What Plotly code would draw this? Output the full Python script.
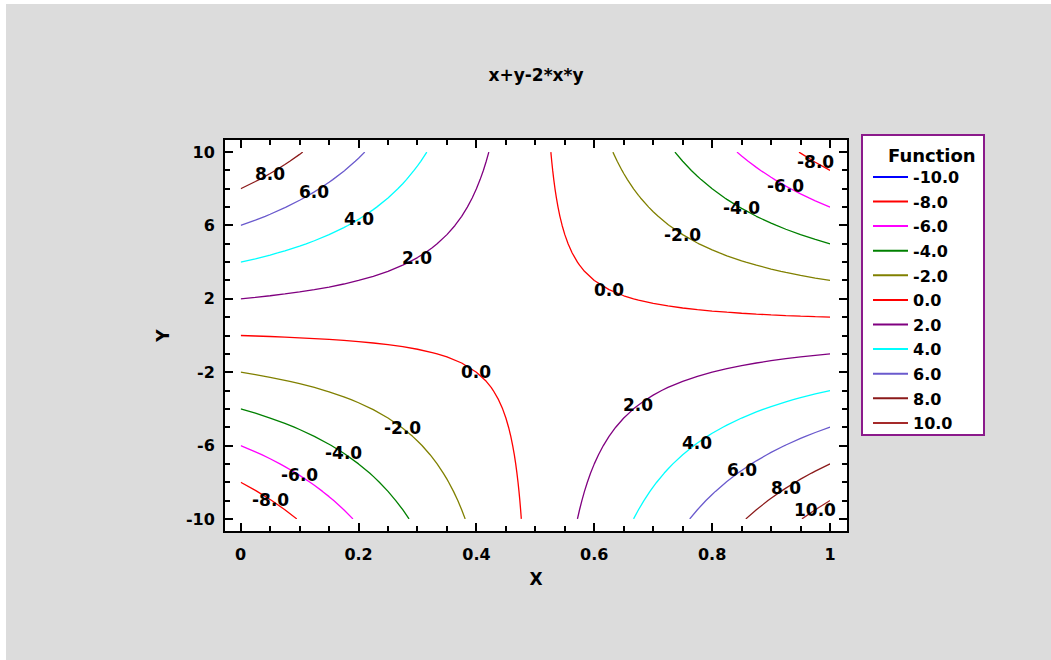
import numpy as np
import plotly.graph_objects as go

# ---- data ----
title_text = "x+y-2*x*y"
legend_title = "Function"
x_vals = np.linspace(0.0, 1.0, 41)
y_vals = np.linspace(-10.0, 10.0, 41)
levels = [-10.0, -8.0, -6.0, -4.0, -2.0, 0.0, 2.0, 4.0, 6.0, 8.0, 10.0]
level_labels = ["-10.0", "-8.0", "-6.0", "-4.0", "-2.0", "0.0", "2.0", "4.0", "6.0", "8.0", "10.0"]
x_ticks = [0, 0.2, 0.4, 0.6, 0.8, 1]
x_ticktext = ["0", "0.2", "0.4", "0.6", "0.8", "1"]
y_ticks = [-10, -6, -2, 2, 6, 10]
y_ticktext = ["-10", "-6", "-2", "2", "6", "10"]

# ---- style ----
level_colors = ["#0000FF", "#FF0000", "#FF00FF", "#008000", "#808000", "#FF0000",
                "#800080", "#00FFFF", "#6A5ACD", "#8B1A1A", "#A52A2A"]
FONT = "DejaVu Sans, Liberation Sans, Arial, sans-serif"
# where along x each contour label sits: (level, x)
label_places = [(8.0, 0.058), (6.0, 0.12), (4.0, 0.196), (2.0, 0.298),
                (0.0, 0.62), (-2.0, 0.757), (-4.0, 0.849), (-6.0, 0.915), (-8.0, 0.97),
                (0.0, 0.389), (-2.0, 0.264), (-4.0, 0.175), (-6.0, 0.106), (-8.0, 0.05),
                (2.0, 0.681), (4.0, 0.786), (6.0, 0.861), (8.0, 0.92), (10.0, 0.974)]

X, Y = np.meshgrid(x_vals, y_vals)
Z = X + Y - 2 * X * Y

fig = go.Figure()
for lv, col in zip(levels, level_colors):
    fig.add_trace(go.Contour(
        x=x_vals, y=y_vals, z=Z,
        autocontour=False,
        contours=dict(start=lv, end=lv, size=1, coloring="none", showlabels=False),
        line=dict(color=col, width=1.3, smoothing=0),
        showscale=False, showlegend=False, hoverinfo="skip",
    ))

for i, (lab, col) in enumerate(zip(level_labels, level_colors)):
    fig.add_trace(go.Scatter(x=[None], y=[None], mode="lines", name=lab, legendgroup=f"g{i}",
                             line=dict(color=col, width=2), showlegend=True))

# contour labels: locate the level crossing in the grid column at the chosen x
annotations = []
for lv, xl in label_places:
    j = int(np.argmin(np.abs(x_vals - xl)))
    col_z = Z[:, j]
    order = np.argsort(col_z)
    yl = float(np.interp(lv, col_z[order], y_vals[order]))
    annotations.append(dict(x=x_vals[j], y=yl, xref="x", yref="y", text=f"{lv:.1f}",
                            showarrow=False, font=dict(size=17, family=FONT, color="black", weight="bold")))

W, H = 1051, 660
ML, MR, MT, MB = 225, 204, 140, 129
pw, ph = W - ML - MR, H - MT - MB

def px_x(p):
    return (p - ML) / pw

def px_y(p):
    return 1 - (p - MT) / ph

annotations.append(dict(x=px_x(932), y=px_y(155), xref="paper", yref="paper", text=legend_title,
                        showarrow=False, xanchor="center", yanchor="middle",
                        font=dict(size=18, family=FONT, color="black", weight="bold")))

axis_common = dict(
    showline=True, linecolor="black", linewidth=2, mirror="allticks",
    ticks="inside", ticklen=8, tickwidth=1.5, tickcolor="black",
    showgrid=False, zeroline=False,
    tickfont=dict(size=16, family=FONT, color="black", weight="bold"),
)

fig.update_layout(
    width=W, height=H,
    margin=dict(l=ML, r=MR, t=MT, b=MB),
    paper_bgcolor="#DCDCDC", plot_bgcolor="white",
    title=dict(text=title_text, x=536 / W, xanchor="center", y=1 - 75 / H, yanchor="middle",
               font=dict(size=17, family=FONT, color="black", weight="bold")),
    xaxis=dict(range=[-0.0266, 1.0288], tickvals=x_ticks, ticktext=x_ticktext,
               ticklabelstandoff=8,
               minor=dict(dtick=0.05, tick0=0, ticks="inside", ticklen=5, tickwidth=1.5, tickcolor="black"),
               title=dict(text="X", font=dict(size=17, family=FONT, color="black", weight="bold"), standoff=10),
               **axis_common),
    yaxis=dict(range=[-10.66, 10.66], tickvals=y_ticks, ticktext=y_ticktext, ticklabelstandoff=5,
               minor=dict(dtick=1, tick0=0, ticks="inside", ticklen=5, tickwidth=1.5, tickcolor="black"),
               title=dict(text="Y", font=dict(size=17, family=FONT, color="black", weight="bold"), standoff=12),
               **axis_common),
    legend=dict(
        x=px_x(868), y=px_y(160), xanchor="left", yanchor="top",
        bgcolor="rgba(0,0,0,0)", borderwidth=0,
        font=dict(size=16, family=FONT, color="black", weight="bold"),
        itemwidth=35, tracegroupgap=0.8,
    ),
    annotations=annotations,
    shapes=[
        # legend frame
        dict(type="rect", xref="paper", yref="paper", x0=px_x(862), x1=px_x(984), y0=px_y(435), y1=px_y(135),
             fillcolor="white", line=dict(width=2, color="#8B1A8B"), layer="below"),
        # white page edge strips
        dict(type="rect", xref="paper", yref="paper", x0=px_x(-5), x1=px_x(6), y0=px_y(665), y1=px_y(-5),
             fillcolor="white", line=dict(width=0), layer="above"),
        dict(type="rect", xref="paper", yref="paper", x0=px_x(-5), x1=px_x(1056), y0=px_y(4), y1=px_y(-5),
             fillcolor="white", line=dict(width=0), layer="above"),
    ],
)

fig.write_html("out.html", config={"displayModeBar": False},
               post_script="document.body.style.margin='0';")
